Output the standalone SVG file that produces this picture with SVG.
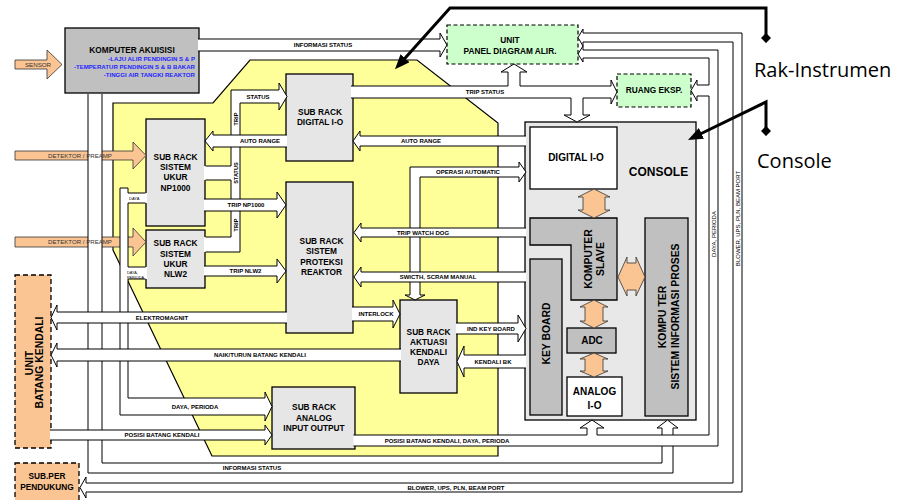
<svg xmlns="http://www.w3.org/2000/svg" width="902" height="500" viewBox="0 0 902 500">
<defs>
<style>
text{font-family:"Liberation Sans",Arial,sans-serif;font-weight:bold;fill:#000;text-anchor:middle}
.bx{stroke:#000;stroke-width:1.3}
.sr{fill:#e6e6e6}
.dk{fill:#c0c0c0}
.wh{fill:#fff}
.gn{fill:#ccffcc;stroke:#000;stroke-width:1.2;stroke-dasharray:4 2.5}
.ob{fill:#fbc493;stroke:#000;stroke-width:1.3;stroke-dasharray:5 3}
.ch{fill:#fff;stroke:#000;stroke-width:1}
.cf{fill:#fff;stroke:none}
.cl{fill:none;stroke:#000;stroke-width:1}
.oa{fill:#fbc493;stroke:#333;stroke-width:0.8}
.t8{font-size:8.3px}
.t10{font-size:10.4px}
.c6{font-size:6px}
.r6{font-size:6px;font-weight:normal}
.ptr{fill:none;stroke:#000;stroke-width:3}
.ann{font-family:"Open Sans","Liberation Sans",sans-serif;font-weight:normal;font-size:20px;text-anchor:start}
</style>
<marker id="ah" viewBox="0 0 10 8" refX="7" refY="4" markerWidth="5" markerHeight="4" orient="auto" markerUnits="strokeWidth"><path d="M0,0 L10,4 L0,8 z" fill="#000"/></marker>
<marker id="dm" viewBox="0 0 10 10" refX="5" refY="5" markerWidth="3.4" markerHeight="3.4" orient="auto" markerUnits="strokeWidth"><path d="M5,0 L10,5 L5,10 L0,5 z" fill="#000"/></marker>
</defs>

<polygon id="rak-area" points="113,103 213,103 250,60 417,60 498,123 498,456 212,456 113,250" fill="#ffff99" stroke="#000" stroke-width="1.2"/>

<g id="komputer-akuisisi">
<rect x="65" y="28" width="134" height="65" class="bx dk"/>
<text class="t8" x="132" y="53">KOMPUTER AKUISISI</text>
<text x="195" y="60.5" style="font-size:6.1px;fill:#2626ff;text-anchor:end">-LAJU ALIR PENDINGIN S &amp; P</text>
<text x="195" y="69" style="font-size:6.1px;fill:#2626ff;text-anchor:end">-TEMPERATUR PENDINGIN S &amp; B BAKAR</text>
<text x="195" y="77" style="font-size:6.1px;fill:#2626ff;text-anchor:end">-TINGGI AIR TANGKI REAKTOR</text>
</g>
<g id="unit-panel">
<rect x="447" y="25" width="131" height="39" class="gn"/>
<text class="t8" x="510" y="43">UNIT</text>
<text class="t8" x="510" y="53.5">PANEL DIAGRAM ALIR.</text>
</g>
<g id="ruang-eksp">
<rect x="617" y="74" width="74" height="33" class="gn"/>
<text class="t8" x="654" y="93">RUANG EKSP.</text>
</g>
<g id="sr-digital-io">
<rect x="286" y="74" width="67" height="87" class="bx sr"/>
<text class="t8" x="320" y="114.5">SUB RACK</text>
<text class="t8" x="320" y="124.5">DIGITAL I-O</text>
</g>
<g id="sr-np1000">
<rect x="146" y="119" width="59" height="107" class="bx sr"/>
<text class="t8" x="175.5" y="159.5">SUB RACK</text>
<text class="t8" x="175.5" y="170">SISTEM</text>
<text class="t8" x="175.5" y="180.3">UKUR</text>
<text class="t8" x="175.5" y="190.6">NP1000</text>
</g>
<g id="sr-nlw2">
<rect x="146" y="230" width="59" height="58" class="bx sr"/>
<text class="t8" x="175.5" y="246">SUB RACK</text>
<text class="t8" x="175.5" y="256.5">SISTEM</text>
<text class="t8" x="175.5" y="266.8">UKUR</text>
<text class="t8" x="175.5" y="277">NLW2</text>
</g>
<g id="sr-proteksi">
<rect x="286" y="182" width="67" height="151" class="bx sr"/>
<text class="t8" x="321.5" y="243.5">SUB RACK</text>
<text class="t8" x="321.5" y="254">SISTEM</text>
<text class="t8" x="321.5" y="264.5">PROTEKSI</text>
<text class="t8" x="321.5" y="274.5">REAKTOR</text>
</g>
<g id="sr-aktuasi">
<rect x="400" y="300" width="57" height="93" class="bx sr"/>
<text class="t8" x="428.5" y="334.5">SUB RACK</text>
<text class="t8" x="428.5" y="344.7">AKTUASI</text>
<text class="t8" x="428.5" y="355">KENDALI</text>
<text class="t8" x="428.5" y="365">DAYA</text>
</g>
<g id="sr-analog">
<rect x="272" y="387" width="83" height="62" class="bx sr"/>
<text class="t8" x="314" y="410">SUB RACK</text>
<text class="t8" x="314" y="420.5">ANALOG</text>
<text class="t8" x="314" y="430.5">INPUT OUTPUT</text>
</g>
<g id="console">
<rect x="525" y="122" width="171" height="298" class="bx" fill="#e8e8e8"/>
<text x="658.5" y="176" style="font-size:12px">CONSOLE</text>
<g id="digital-io"><rect x="530" y="127" width="87" height="62" class="bx wh"/><text class="t10" x="576" y="161" style="font-size:10px">DIGITAL I-O</text></g>
<g id="komputer-slave"><polygon points="530,218 617,218 617,300 571,300 571,245 530,245" class="bx dk"/>
<text class="t10" transform="translate(591.8,259) rotate(-90)">KOMPUTER</text>
<text class="t10" transform="translate(603.6,259) rotate(-90)">SLAVE</text></g>
<g id="key-board"><rect x="530" y="259" width="32" height="156" class="bx dk"/>
<text class="t10" transform="translate(549.8,333.5) rotate(-90)">KEY BOARD</text></g>
<g id="kompu-ter"><rect x="645" y="218" width="43" height="198" class="bx dk"/>
<text class="t10" transform="translate(665.5,317) rotate(-90)">KOMPU TER</text>
<text class="t10" transform="translate(678.8,316.5) rotate(-90)">SISTEM INFORMASI PROSES</text></g>
<g id="adc"><rect x="567" y="328" width="49" height="25" class="bx dk"/><text class="t10" x="592" y="344.3" style="font-size:10px">ADC</text></g>
<g id="analog-io"><rect x="567" y="377" width="55" height="39" class="bx wh"/>
<text class="t10" x="594.5" y="395.3" style="font-size:10px">ANALOG</text>
<text class="t10" x="594.5" y="408.6" style="font-size:10px">I-O</text></g>
</g>
<g id="unit-batang-kendali">
<rect x="15" y="275" width="36" height="173" class="ob"/>
<text class="t10" transform="translate(32.8,363) rotate(-90)">UNIT</text>
<text class="t10" transform="translate(42.8,362.5) rotate(-90)">BATANG KENDALI</text>
</g>
<g id="sub-per-pendukung">
<rect x="15" y="463" width="64" height="45" class="ob"/>
<text class="t8" x="47" y="479.3">SUB.PER</text>
<text class="t8" x="47" y="489.7">PENDUKUNG</text>
</g>

<g id="connectors">
<!-- input arrows -->
<polygon points="15,60 47,60 47,50 62,64.5 47,79 47,69 15,69" class="oa"/>
<polygon points="15,151 133,151 133,142 146,155.5 133,169 133,160 15,160" class="oa"/>
<polygon points="15,237 133,237 133,228 146,242 133,256 133,247 15,247" class="oa"/>
<!-- informasi status bottom -->
<path class="ch" d="M102,94 L102,463 L662,463 L662,428 L657,428 L667.5,420 L678,428 L673,428 L673,473 L88,473 L88,94"/>
<!-- posisi/daya/perioda network -->
<path class="ch" d="M353.5,435 L587,435 L587,428 L580,428 L592,420 L604,428 L597,428 L597,435 L709,435 L709,96 L697,96 L697,101 L691,90.5 L697,80 L697,85 L709,85 L709,58 L583,58 L583,62 L578,54 L583,46 L583,50 L718,50 L718,446 L353.5,446"/>
<!-- blower network -->
<path class="ch" d="M583,33 L742,33 L742,492 L86,492 L86,498 L80,487.5 L86,477 L86,483 L733,483 L733,42 L583,42 L583,46 L578,37.5 L583,29 Z"/>
<!-- status vertical -->
<path class="cf" d="M204,166 L231,166 L231,90 L279,90 L279,83 L287,96.5 L279,110 L279,103 L240,103 L240,252 L204,252 L204,237 L231,237 L231,180 L204,180 Z"/>
<path class="cl" d="M205.5,166 L231,166 L231,90 L279,90 L279,83 L287,96.5 L279,110 L279,103 L240,103 L240,252 L205.5,252 M205.5,237 L231,237 L231,180 L205.5,180"/>
<!-- daya vertical -->
<path class="cf" d="M120,188 L128,188 L128,193 L147,193 L147,203 L128,203 L128,267 L147,267 L147,279 L128,279 L128,398 L265,398 L265,392 L272,406.5 L265,421 L265,415 L120,415 Z"/>
<path class="cl" d="M145.5,193 L128,193 L128,188 L120,188 L120,415 L265,415 L265,421 L272,406.5 L265,392 L265,398 L128,398 L128,279 L145.5,279 M145.5,267 L128,267 L128,203 L145.5,203"/>
<!-- operasi automatic -->
<path class="ch" d="M410,295 L410,167 L519,167 L519,162 L526,172 L519,182 L519,177 L420,177 L420,295 L425,295 L415,300 L405,295 Z"/>
<!-- informasi status top -->
<path class="ch" d="M198,39 L440,39 L440,33 L447,45 L440,57 L440,51 L198,51"/>
<!-- trip status -->
<path class="ch" d="M351,86 L508,86 L508,72 L501,72 L514,64 L527,72 L520,72 L520,86 L611,86 L611,80 L617,92 L611,104 L611,98 L583,98 L583,115 L590,115 L577,122 L564,115 L571,115 L571,98 L351,98"/>
<!-- single arrows -->
<path class="ch" d="M526,136 L360,136 L360,131 L353,141 L360,151 L360,146 L526,146"/>
<path class="ch" d="M287,135 L213,135 L213,131 L205,141 L213,151 L213,147 L287,147"/>
<path class="ch" d="M204,199 L277,199 L277,192 L286,205 L277,218 L277,211 L204,211"/>
<path class="ch" d="M204,266 L277,266 L277,259 L286,271 L277,283 L277,276 L204,276"/>
<path class="ch" d="M287,312 L57,312 L57,305 L51,317.5 L57,330 L57,323 L287,323"/>
<path class="ch" d="M401,349 L57,349 L57,343 L51,355 L57,367 L57,361 L401,361"/>
<path class="ch" d="M50,430 L265,430 L265,425 L272,435 L265,445 L265,440 L50,440"/>
<path class="ch" d="M352,307 L393,307 L393,300 L400,314 L393,328 L393,321 L352,321"/>
<path class="ch" d="M526,228 L361,228 L361,223 L354,232.5 L361,242 L361,237 L526,237"/>
<path class="ch" d="M526,272 L361,272 L361,267 L354,277 L361,287 L361,282 L526,282"/>
<path class="ch" d="M456,323 L518,323 L518,315 L526,328.5 L518,342 L518,334 L456,334"/>
<path class="ch" d="M526,355 L464,355 L464,346 L457,361.5 L464,377 L464,368 L526,368"/>
<!-- console internal double arrows -->
<polygon class="oa" points="594,189 610,197 605,197 605,210 610,210 594,218 578,210 583,210 583,197 578,197"/>
<polygon class="oa" points="594,300 608,307 603,307 603,321 608,321 594,328 580,321 585,321 585,307 580,307"/>
<polygon class="oa" points="594,353 608,359 603,359 603,371 608,371 594,377 580,371 585,371 585,359 580,359"/>
<polygon class="oa" points="618,277 627,257 627,263 636,263 636,257 645,277 636,296 636,290 627,290 627,296"/>
<!-- labels -->
<text x="38" y="66.5" style="font-size:6.2px;font-weight:normal;fill:#333">SENSOR</text>
<text x="80" y="158" style="font-size:6.1px;font-weight:normal;fill:#333">DETEKTOR / PREAMP</text>
<text x="80" y="244.3" style="font-size:6.1px;font-weight:normal;fill:#333">DETEKTOR / PREAMP</text>
<text class="c6" x="323" y="47.3">INFORMASI STATUS</text>
<text class="c6" x="485" y="94.2">TRIP STATUS</text>
<text class="c6" x="258" y="98.8">STATUS</text>
<text class="c6" x="260" y="143.2">AUTO RANGE</text>
<text class="c6" x="421" y="143.2">AUTO RANGE</text>
<text class="c6" x="246" y="207.2">TRIP NP1000</text>
<text class="c6" x="245.5" y="273.2">TRIP NLW2</text>
<text class="c6" transform="translate(237.8,119) rotate(-90)" style="font-size:5.6px">TRIP</text>
<text class="c6" transform="translate(237.8,173) rotate(-90)" style="font-size:5.6px">STATUS</text>
<text class="c6" transform="translate(237.8,225) rotate(-90)" style="font-size:5.6px">TRIP</text>
<text x="129" y="200" style="font-size:4px;font-weight:normal;text-anchor:start">DAYA</text>
<text x="127" y="274" style="font-size:3.8px;font-weight:normal;text-anchor:start">DAYA,</text>
<text x="127" y="278.8" style="font-size:3.8px;font-weight:normal;text-anchor:start">PERIODA</text>
<text class="c6" x="195" y="408.8">DAYA, PERIODA</text>
<text class="c6" x="162" y="319.8">ELEKTROMAGNIT</text>
<text class="c6" x="260" y="357.3">NAIK/TURUN BATANG KENDALI</text>
<text class="c6" x="162" y="437.3">POSISI BATANG KENDALI</text>
<text class="c6" x="252" y="470.3">INFORMASI STATUS</text>
<text class="c6" x="456" y="489.8">BLOWER, UPS, PLN, BEAM PORT</text>
<text class="c6" x="447" y="442.8">POSISI BATANG KENDALI,  DAYA, PERIODA</text>
<text class="c6" x="468" y="174.2">OPERASI AUTOMATIC</text>
<text class="c6" x="423" y="234.7">TRIP WATCH DOG</text>
<text class="c6" x="438" y="279.2">SWICTH, SCRAM MANUAL</text>
<text class="c6" x="376" y="316.2">INTERLOCK</text>
<text class="c6" x="491" y="330.7">IND KEY BOARD</text>
<text class="c6" x="493" y="363.7">KENDALI BK</text>
<text class="r6" transform="translate(715.7,234) rotate(-90)">DAYA, PERIODA</text>
<text class="r6" transform="translate(739.7,218.5) rotate(-90)">BLOWER, UPS, PLN, BEAM PORT</text>
</g>

<g id="annotations">
<polyline class="ptr" points="766,38 766,8 450,8 398,66" marker-start="url(#dm)" marker-end="url(#ah)"/>
<polyline class="ptr" points="766,131 766,102 692,138" marker-start="url(#dm)" marker-end="url(#ah)"/>
<text class="ann" x="754" y="77">Rak-Instrumen</text>
<text class="ann" x="757" y="168">Console</text>
</g>
</svg>
